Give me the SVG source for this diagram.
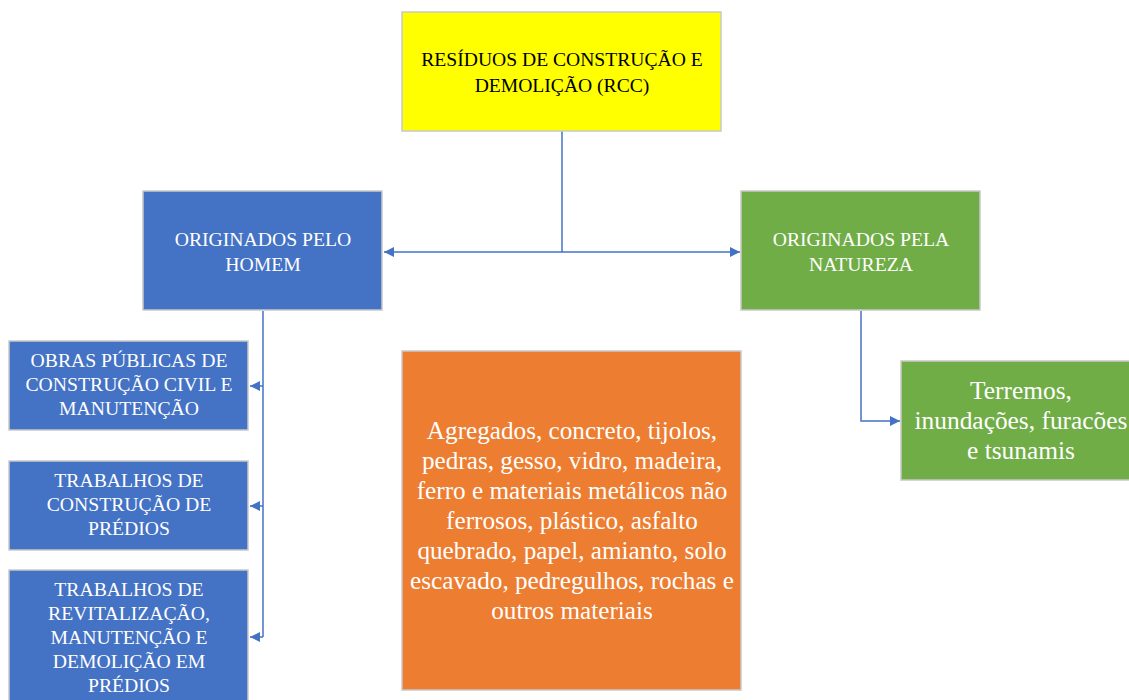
<svg xmlns="http://www.w3.org/2000/svg" width="1129" height="700" viewBox="0 0 1129 700">
<defs>
<style>
.box{stroke:#c9c9c9;stroke-width:1.5}
.t{font-family:"Liberation Serif","Times New Roman",serif;text-anchor:middle}
.s{font-size:19.7px}
.w{fill:#ffffff}
.ln{stroke:#4472c4;stroke-width:1.5;fill:none}
</style>
<marker id="ah" viewBox="0 0 10 10" refX="10" refY="5" markerWidth="10" markerHeight="10" markerUnits="userSpaceOnUse" orient="auto-start-reverse">
<path d="M0,0 L10,5 L0,10 z" fill="#4472c4"/>
</marker>
</defs>
<rect width="1129" height="700" fill="#ffffff"/>
<g id="connectors">
<path class="ln" d="M562,131 V252"/>
<path class="ln" d="M384,252 H740" marker-start="url(#ah)" marker-end="url(#ah)"/>
<path class="ln" d="M263,311 V637"/>
<path class="ln" d="M263,386 H250" marker-end="url(#ah)"/>
<path class="ln" d="M263,506 H250" marker-end="url(#ah)"/>
<path class="ln" d="M263,637 H250" marker-end="url(#ah)"/>
<path class="ln" d="M861,311 V421 H900" marker-end="url(#ah)"/>
</g>
<g id="rcc">
<rect class="box" x="402" y="12" width="319" height="119" fill="#ffff00"/>
<text class="t" x="562" y="66" font-size="19.6">RESÍDUOS DE CONSTRUÇÃO E</text>
<text class="t" x="562" y="92" font-size="19.6">DEMOLIÇÃO (RCC)</text>
</g>
<g id="homem">
<rect class="box" x="143" y="191" width="239" height="119" fill="#4472c4"/>
<text class="t s w" x="263" y="246">ORIGINADOS PELO</text>
<text class="t s w" x="263" y="271">HOMEM</text>
</g>
<g id="natureza">
<rect class="box" x="741" y="191" width="239" height="119" fill="#70ad47"/>
<text class="t s w" x="861" y="246">ORIGINADOS PELA</text>
<text class="t s w" x="861" y="271">NATUREZA</text>
</g>
<g id="obras">
<rect class="box" x="9" y="341" width="239" height="89" fill="#4472c4"/>
<text class="t s w" x="129" y="367">OBRAS PÚBLICAS DE</text>
<text class="t s w" x="129" y="391">CONSTRUÇÃO CIVIL E</text>
<text class="t s w" x="129" y="415">MANUTENÇÃO</text>
</g>
<g id="trabalhos-construcao">
<rect class="box" x="9" y="461" width="239" height="89" fill="#4472c4"/>
<text class="t s w" x="129" y="487">TRABALHOS DE</text>
<text class="t s w" x="129" y="511">CONSTRUÇÃO DE</text>
<text class="t s w" x="129" y="535">PRÉDIOS</text>
</g>
<g id="trabalhos-revitalizacao">
<rect class="box" x="9" y="570" width="239" height="140" fill="#4472c4"/>
<text class="t s w" x="129" y="596">TRABALHOS DE</text>
<text class="t s w" x="129" y="620">REVITALIZAÇÃO,</text>
<text class="t s w" x="129" y="644">MANUTENÇÃO E</text>
<text class="t s w" x="129" y="668">DEMOLIÇÃO EM</text>
<text class="t s w" x="129" y="692">PRÉDIOS</text>
</g>
<g id="materiais">
<rect class="box" x="402" y="351" width="339" height="339" fill="#ed7d31"/>
<text class="t w" font-size="25.2" x="572" y="439">Agregados, concreto, tijolos,</text>
<text class="t w" font-size="25.2" x="572" y="469">pedras, gesso, vidro, madeira,</text>
<text class="t w" font-size="25.2" x="572" y="499">ferro e materiais metálicos não</text>
<text class="t w" font-size="25.2" x="572" y="529">ferrosos, plástico, asfalto</text>
<text class="t w" font-size="25.2" x="572" y="559">quebrado, papel, amianto, solo</text>
<text class="t w" font-size="25.2" x="572" y="589">escavado, pedregulhos, rochas e</text>
<text class="t w" font-size="25.2" x="572" y="619">outros materiais</text>
</g>
<g id="desastres">
<rect class="box" x="901" y="361" width="239" height="119" fill="#70ad47"/>
<text class="t w" font-size="25.4" x="1021" y="399">Terremos,</text>
<text class="t w" font-size="25.4" x="1021" y="429">inundações, furacões</text>
<text class="t w" font-size="25.4" x="1021" y="459">e tsunamis</text>
</g>
</svg>
